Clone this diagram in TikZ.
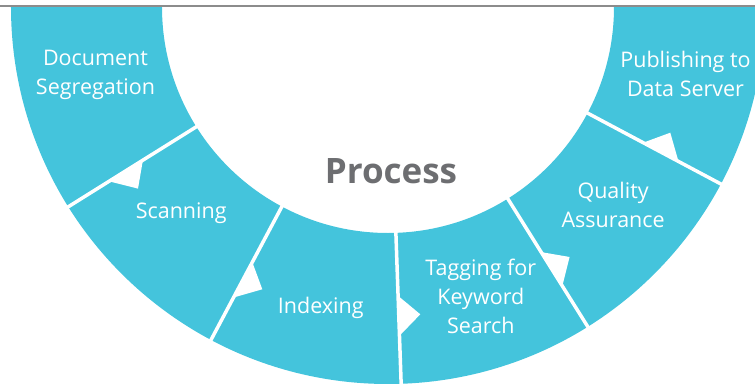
\documentclass[tikz,border=0pt]{standalone}
\usepackage{fontspec}
\setmainfont{Open Sans}
\usepackage{tikz}
\usetikzlibrary{positioning}

\definecolor{ringblue}{HTML}{44C4DC}
\definecolor{titlegray}{HTML}{6D6E71}

\begin{document}
\begin{tikzpicture}[
                x=1pt, y=1pt, % 1 unit = 1 pt
                stage/.style={
                    text=white, % white label
                    align=center, % centred lines
                    inner sep=0,
                    font=\fontsize{21.5}{29}\selectfont
                },
                gap/.style={white, line width=3.5pt} % white cut between stages
            ]
            \useasboundingbox (-388,-376) rectangle (367,7);
            \clip (-388,-376) rectangle (367,7);

            % half ring
            \fill[ringblue] (180:377) arc (180:360:377) -- (0:226) arc (360:180:226) -- cycle;

            % cuts and notches
            \foreach \a in {212, 242, 272, 302, 332} {
                \draw[gap] (\a:222) -- (\a:381);
                \fill[white] (\a:289) -- (\a+4:309) -- (\a:329) -- cycle;
            }

            % top rule
            \draw[gray!90, line width=1.3pt] (-388,1) -- (367,1);

            % stages
            \node[stage] (docseg) at (193.0:300.2) {Document\\Segregation};
            \node[stage] (scan) at (224.9:292) {Scanning};
            \node[stage] (index) at (257.4:308.4) {Indexing};
            \node[stage] (tag) at (287.8:303.6) {Tagging for\\Keyword\\Search};
            \node[stage] (qa) at (318.7:299.7) {Quality\\Assurance};
            \node[stage] (pub) at (347.3:305) {Publishing to\\Data Server};

            \node[text=titlegray, font=\fontsize{35}{40}\selectfont\bfseries] (process) at (3,-164) {Process};
\end{tikzpicture}
\end{document}
